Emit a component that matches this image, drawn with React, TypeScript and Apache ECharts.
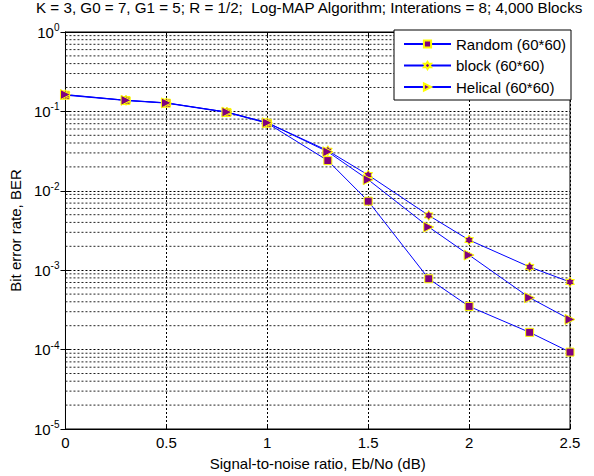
import React, { useEffect, useRef } from "react";
import * as echarts from "echarts";

// ---- data ----
const snrDb = [0, 0.3, 0.5, 0.8, 1.0, 1.3, 1.5, 1.8, 2.0, 2.3, 2.5];
const randomBER = [0.16, 0.137, 0.127, 0.097, 0.071, 0.024, 0.0074, 7.8e-4, 3.5e-4, 1.65e-4, 9.3e-5];
const blockBER = [0.162, 0.138, 0.128, 0.098, 0.072, 0.032, 0.0158, 0.0049, 0.0024, 0.0011, 7.1e-4];
const helicalBER = [0.163, 0.138, 0.128, 0.098, 0.072, 0.031, 0.0138, 0.0035, 0.00155, 4.5e-4, 2.4e-4];
const seriesNames = ["Random (60*60)", "block (60*60)", "Helical (60*60)"];
const titleText = "K = 3, G0 = 7, G1 = 5; R = 1/2;  Log-MAP Algorithm; Interations = 8; 4,000 Blocks";
const xAxisTitle = "Signal-to-noise ratio, Eb/No (dB)";
const yAxisTitle = "Bit error rate, BER";
const decadeExps = [-5, -4, -3, -2, -1];
const minorMults = [2, 3, 4, 5, 6, 7, 8, 9];

const FONT = "'Liberation Sans', Arial, Helvetica, sans-serif";
const BLUE = "#0000ff";
const PURPLE = "#800080";
const YELLOW = "#ffff00";

const hexagram =
  "path://M1,0L1.289,0.5L1.866,0.5L1.577,1L1.866,1.5L1.289,1.5L1,2L0.711,1.5L0.134,1.5L0.423,1L0.134,0.5L0.711,0.5Z";
const triRight = "path://M0,0L1,0.5L0,1Z";

export default function App() {
  const ref = useRef<HTMLDivElement>(null);
  useEffect(() => {
    if (!ref.current) return;
    const chart = echarts.init(ref.current, undefined, { renderer: "svg" });
    const minorValues: number[] = [];
    decadeExps.forEach((e) => minorMults.forEach((m) => minorValues.push(m * Math.pow(10, e))));
    const mk = (vals: number[]) => snrDb.map((x, i) => [x, vals[i]]);
    const common = {
      type: "line",
      lineStyle: { color: BLUE, width: 1 },
      itemStyle: { color: PURPLE, borderColor: YELLOW, borderWidth: 1 },
      showSymbol: true,
      z: 3,
    };
    chart.setOption({
      animation: false,
      backgroundColor: "#fff",
      title: {
        text: titleText,
        left: 36,
        top: 0,
        padding: 0,
        textStyle: { fontFamily: FONT, fontSize: 15.2, fontWeight: "normal", color: "#000" },
      },
      graphic: [
        {
          type: "rect",
          z: 5,
          shape: { x: 394, y: 30, width: 177, height: 70 },
          style: { fill: "#fff", stroke: "#000", lineWidth: 1 },
        },
      ],
      legend: {
        data: seriesNames,
        orient: "vertical",
        left: 394,
        top: 30,
        itemWidth: 47,
        itemHeight: 9,
        itemGap: 5.5,
        padding: [6, 2, 6, 9],
        borderWidth: 0,
        textStyle: { fontFamily: FONT, fontSize: 15, lineHeight: 16, color: "#000" },
        z: 10,
      },
      grid: {
        left: 63,
        top: 32,
        width: 507,
        height: 400,
        show: true,
        borderColor: "#000",
        borderWidth: 1,
      },
      xAxis: [
        {
          type: "value",
          min: 0,
          max: 2.5,
          interval: 0.5,
          name: xAxisTitle,
          nameLocation: "middle",
          nameGap: 27,
          nameTextStyle: { fontFamily: FONT, fontSize: 15, color: "#000" },
          axisLine: { show: true, lineStyle: { color: "#000" } },
          axisTick: { show: true, inside: true, length: 5, lineStyle: { color: "#000" } },
          axisLabel: { fontFamily: FONT, fontSize: 15, color: "#000", margin: 6 },
          splitLine: { show: true, lineStyle: { color: "#000", type: [2, 2], width: 1 } },
        },
        {
          type: "value",
          position: "top",
          min: 0,
          max: 2.5,
          interval: 0.5,
          axisLine: { show: true, lineStyle: { color: "#000" } },
          axisTick: { show: true, inside: true, length: 5, lineStyle: { color: "#000" } },
          axisLabel: { show: false },
          splitLine: { show: false },
        },
      ],
      yAxis: [
        {
          type: "log",
          logBase: 10,
          min: 1e-5,
          max: 1,
          name: yAxisTitle,
          nameLocation: "middle",
          nameGap: 38,
          nameRotate: 90,
          nameTextStyle: { fontFamily: FONT, fontSize: 15, color: "#000" },
          axisLine: { show: true, lineStyle: { color: "#000" } },
          axisTick: { show: true, inside: true, length: 5, lineStyle: { color: "#000" } },
          axisLabel: {
            margin: 6,
            formatter: (v: number) => {
              const e = Math.round(Math.log10(v));
              return `{b|10}{s|${e}}`;
            },
            rich: {
              b: { fontFamily: FONT, fontSize: 15, color: "#000" },
              s: { fontFamily: FONT, fontSize: 10, color: "#000", padding: [0, 0, 9, 0] },
            },
          },
          splitLine: { show: true, lineStyle: { color: "#000", type: [2, 2], width: 1 } },
        },
        {
          type: "log",
          logBase: 10,
          min: 1e-5,
          max: 1,
          position: "right",
          axisLine: { show: true, lineStyle: { color: "#000" } },
          axisTick: { show: true, inside: true, length: 5, lineStyle: { color: "#000" } },
          axisLabel: { show: false },
          splitLine: { show: false },
        },
      ],
      series: [
        {
          name: "minor-grid",
          type: "custom",
          silent: true,
          z: 1,
          xAxisIndex: 0,
          yAxisIndex: 0,
          encode: { x: 0, y: 1 },
          data: minorValues.map((v) => [0, v]),
          renderItem: (params: any, api: any) => {
            const v = api.value(1);
            const p0 = api.coord([0, v]);
            const p1 = api.coord([2.5, v]);
            return {
              type: "line",
              shape: { x1: p0[0], y1: p0[1], x2: p1[0], y2: p1[1] },
              style: { stroke: "#222", lineWidth: 1, lineDash: [2, 2] },
            };
          },
        },
        { ...common, name: seriesNames[0], data: mk(randomBER), symbol: "rect", symbolSize: 8 },
        { ...common, name: seriesNames[1], data: mk(blockBER), symbol: hexagram, symbolKeepAspect: true, symbolSize: 10 },
        { ...common, name: seriesNames[2], data: mk(helicalBER), symbol: triRight, symbolSize: 10 },
      ],
    });
    return () => chart.dispose();
  }, []);
  return (
    <div
      ref={ref}
      style={{ position: "fixed", left: 0, top: 0, width: 594, height: 476, background: "#fff" }}
    />
  );
}
